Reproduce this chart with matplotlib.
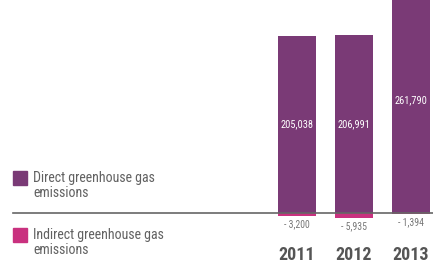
import matplotlib
matplotlib.use("Agg")
import matplotlib.pyplot as plt
from matplotlib.patches import Rectangle

years = ["2011", "2012", "2013"]
direct = [205038, 206991, 261790]
indirect = [-3200, -5935, -1394]
direct_labels = ["205,038", "206,991", "261,790"]
indirect_labels = ["- 3,200", "- 5,935", "- 1,394"]
legend_labels = ["Direct greenhouse gas\nemissions", "Indirect greenhouse gas\nemissions"]

purple = "#7a3a76"
pink = "#c9317f"
grey = "#616161"
cond = ["Roboto Condensed", "DejaVu Sans"]

W, H = 433, 265
fig = plt.figure(figsize=(W / 100, H / 100), dpi=100)
ax = fig.add_axes([0, 0, 1, 1])
ax.set_axis_off()

px = 57.0
x0 = 297.0
ax.set_xlim(-x0 / px, (W - x0) / px)
upp = 1160.0
base = 213.0
ax.set_ylim(-(H - base) * upp, base * upp)

xs = list(range(len(years)))
ax.bar(xs, direct, width=0.667, color=purple, zorder=2)
ax.bar(xs, indirect, width=0.667, color=pink, zorder=2)
ax.axhline(0, xmin=13 / W, xmax=1, color="#666666", lw=1.2, zorder=3)

for i in xs:
    ax.text(i, direct[i] / 2, direct_labels[i], ha="center", va="center",
            color="white", fontsize=7.5, family=cond)
    ax.text(i, indirect[i] - 3500, indirect_labels[i], ha="center", va="top",
            color="#777777", fontsize=7, family=cond)
    fig.text((x0 + i * px) / W, 0.5 / H, years[i], ha="center", va="bottom",
             color="#555555", fontsize=13, fontweight="bold", family=cond)

for y, c, lab in [(171, purple, legend_labels[0]), (228, pink, legend_labels[1])]:
    fig.patches.append(Rectangle((13 / W, 1 - (y + 14) / H), 14 / W, 14 / H,
                                 transform=fig.transFigure, color=c))
    fig.text(33 / W, 1 - y / H, lab, ha="left", va="top", color=grey,
             fontsize=10, family=cond, linespacing=1.05)

fig.savefig("out.png", dpi=100)
